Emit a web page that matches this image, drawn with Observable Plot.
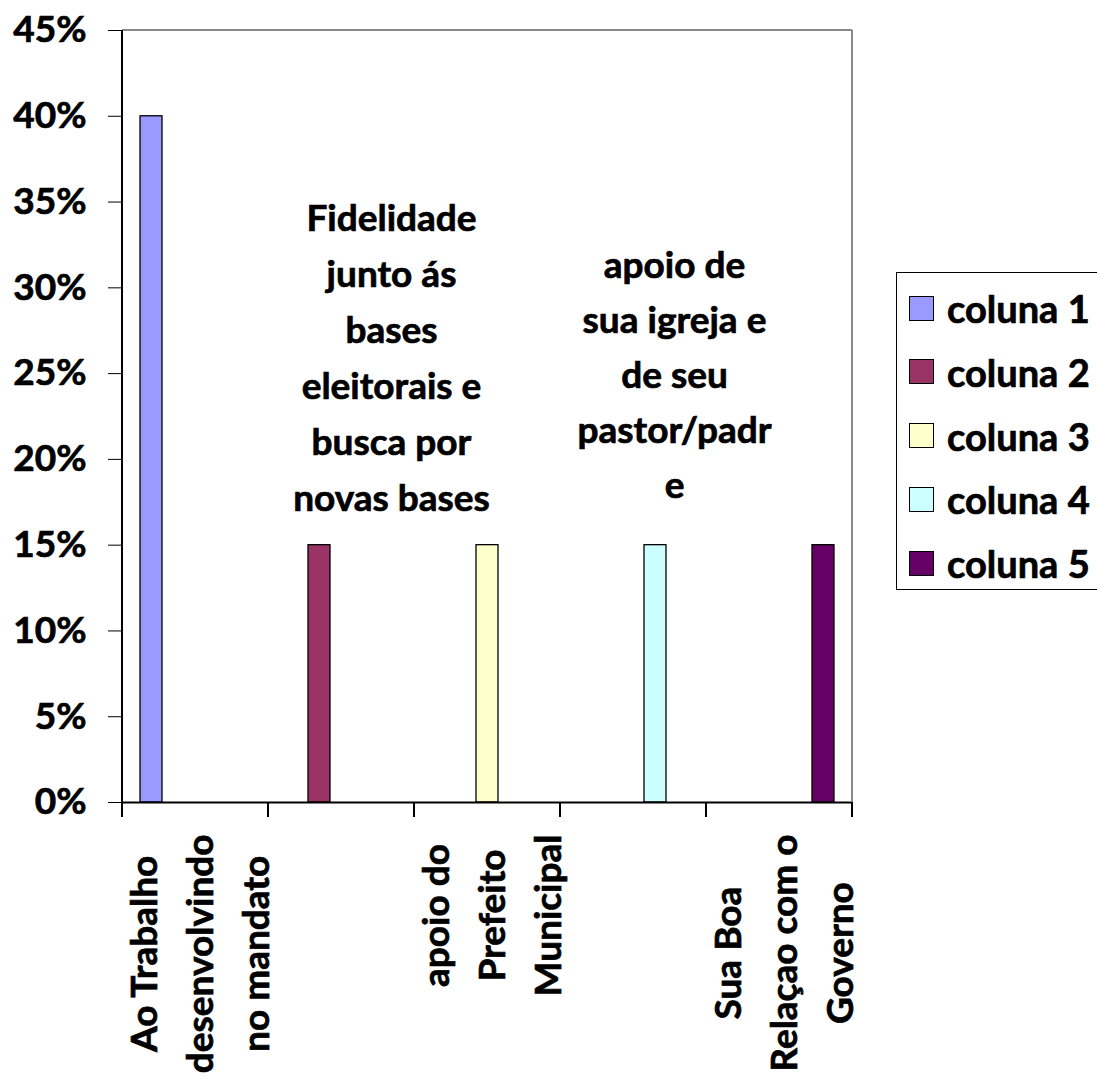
<!DOCTYPE html>
<html>
<head>
<meta charset="utf-8">
<script src="https://cdn.jsdelivr.net/npm/d3@7"></script>
<script src="https://cdn.jsdelivr.net/npm/@observablehq/plot@0.6"></script>
<style>
  html, body { margin: 0; padding: 0; overflow: hidden; background: #fff; }
  #wrap { position: relative; width: 1097px; height: 1084px; overflow: hidden; font-family: Lato, "Open Sans", sans-serif; font-weight: 700; }
  #wrap svg text { stroke: #000; stroke-width: 0.7px; }
  #legend { position: absolute; left: 896px; top: 272px; width: 240px; height: 318px; border: 1.5px solid #000; box-sizing: border-box; background: #fff; }
  .row { position: absolute; left: 12px; height: 40px; display: flex; align-items: center; white-space: nowrap; color: #000; -webkit-text-stroke: 0.7px #000; }
  .sw { width: 25px; height: 25px; box-sizing: border-box; border: 1.5px solid #000; margin-right: 13px; -webkit-text-stroke: 0; }
</style>
</head>
<body>
<div id="wrap"><div id="legend"></div></div>
<script>
// ---- data ----
const categories = [
  "Ao Trabalho desenvolvindo no mandato",
  "Fidelidade junto ás bases eleitorais e busca por novas bases",
  "apoio do Prefeito Municipal",
  "apoio de sua igreja e de seu pastor/padre",
  "Sua Boa Relaçao com o Governo"
];
const categoryLines = [
  ["Ao Trabalho", "desenvolvindo", "no mandato"],
  ["Fidelidade", "junto ás", "bases", "eleitorais e", "busca por", "novas bases"],
  ["apoio do", "Prefeito", "Municipal"],
  ["apoio de", "sua igreja e", "de seu", "pastor/padr", "e"],
  ["Sua Boa", "Relaçao com o", "Governo"]
];
const series = ["coluna 1", "coluna 2", "coluna 3", "coluna 4", "coluna 5"];
const coluna1 = [0.40, 0, 0, 0, 0];
const coluna2 = [0, 0.15, 0, 0, 0];
const coluna3 = [0, 0, 0.15, 0, 0];
const coluna4 = [0, 0, 0, 0.15, 0];
const coluna5 = [0, 0, 0, 0, 0.15];
const yTicks = [0, 0.05, 0.10, 0.15, 0.20, 0.25, 0.30, 0.35, 0.40, 0.45];

// ---- styles ----
const colors = ["#9999FF", "#993366", "#FFFFCC", "#CCFFFF", "#660066"];
const FONT = "Lato";
const FS = 37;
const LINE = 56; // px between label lines

// ---- build table ----
const seriesValues = [coluna1, coluna2, coluna3, coluna4, coluna5];
const data = [];
categories.forEach((c, i) => series.forEach((s, j) => data.push({cat: c, series: s, value: seriesValues[j][i]})));
const labelData = categories.map((c, i) => ({cat: c, label: categoryLines[i].join("\n")}));

const W = 1097, H = 1084;
const frameLeft = 121, frameRight = 853, frameTop = 30, frameBottom = 802;

const ctx = document.createElement("canvas").getContext("2d");
ctx.font = `700 ${FS}px ${FONT}`;
const maxWidth = lines => Math.max(...lines.map(l => ctx.measureText(l).width));

const textCommon = {fx: "cat", text: "label", fontSize: FS, fontWeight: 700, fill: "#000", lineHeight: LINE / FS, lineAnchor: "middle"};

const rotatedMarks = [0, 2, 4].map(i => Plot.text([labelData[i]], {
  ...textCommon, frameAnchor: "bottom", rotate: -90, textAnchor: "middle",
  dy: 32 + maxWidth(categoryLines[i]) / 2
}));
const flatMarks = [
  Plot.text([labelData[1]], {...textCommon, frameAnchor: "middle", textAnchor: "middle", dx: 50, dy: -63}),
  Plot.text([labelData[3]], {...textCommon, frameAnchor: "middle", textAnchor: "middle", dx: 41, dy: -46, lineHeight: 55 / FS})
];

const plot = Plot.plot({
  width: W, height: H,
  marginLeft: frameLeft, marginRight: W - frameRight, marginTop: frameTop, marginBottom: H - frameBottom,
  style: {fontFamily: FONT, fontWeight: 700, fontSize: FS + "px", color: "#000", background: "transparent", overflow: "visible"},
  fx: {domain: categories, padding: 0, axis: null, label: null},
  x: {domain: series, paddingInner: 0, paddingOuter: 0.7, axis: null},
  y: {domain: [0, 0.45], ticks: yTicks, tickFormat: d3.format(".0%"), tickSize: 14, tickPadding: 22, label: null},
  color: {domain: series, range: colors},
  marks: [
    Plot.barY(data, {fx: "cat", x: "series", y: "value", fill: "series", stroke: "#000", strokeWidth: 1.3, filter: d => d.value > 0}),
    Plot.ruleY([0], {stroke: "#000", strokeWidth: 2}),
    ...rotatedMarks,
    ...flatMarks
  ]
});

document.getElementById("wrap").prepend(plot);

// frame lines and category boundary ticks, positioned via Plot's scales
let fxS = null, yS = null;
try { fxS = plot.scale("fx"); yS = plot.scale("y"); } catch (e) {}
const y0 = yS ? yS.apply(0) : frameBottom;
const yTop = yS ? yS.apply(0.45) : frameTop;
let left = frameLeft, step = (frameRight - frameLeft) / categories.length;
if (fxS && fxS.apply) { left = fxS.apply(categories[0]); step = fxS.step || fxS.bandwidth || step; }
const right = left + step * categories.length;
const svg = d3.select(plot);
const g = svg.append("g");
g.append("line").attr("x1", left).attr("x2", right).attr("y1", yTop).attr("y2", yTop).attr("stroke", "#888").attr("stroke-width", 2);
g.append("line").attr("x1", right).attr("x2", right).attr("y1", yTop).attr("y2", y0).attr("stroke", "#888").attr("stroke-width", 2);
g.append("line").attr("x1", left).attr("x2", left).attr("y1", yTop).attr("y2", y0).attr("stroke", "#000").attr("stroke-width", 2);
for (let i = 0; i <= categories.length; i++) {
  const x = left + i * step;
  g.append("line").attr("x1", x).attr("x2", x).attr("y1", y0).attr("y2", y0 + 15).attr("stroke", "#000").attr("stroke-width", 2);
}

// legend
const legend = document.getElementById("legend");
series.forEach((s, i) => {
  const row = document.createElement("div");
  row.className = "row";
  row.style.top = (35 + i * 63.75 - 20) + "px";
  row.style.fontSize = (FS + 1) + "px";
  row.style.fontFamily = FONT;
  const sw = document.createElement("div");
  sw.className = "sw";
  sw.style.background = colors[i];
  const t = document.createElement("span");
  t.textContent = s;
  row.appendChild(sw);
  row.appendChild(t);
  legend.appendChild(row);
});
</script>
</body>
</html>
